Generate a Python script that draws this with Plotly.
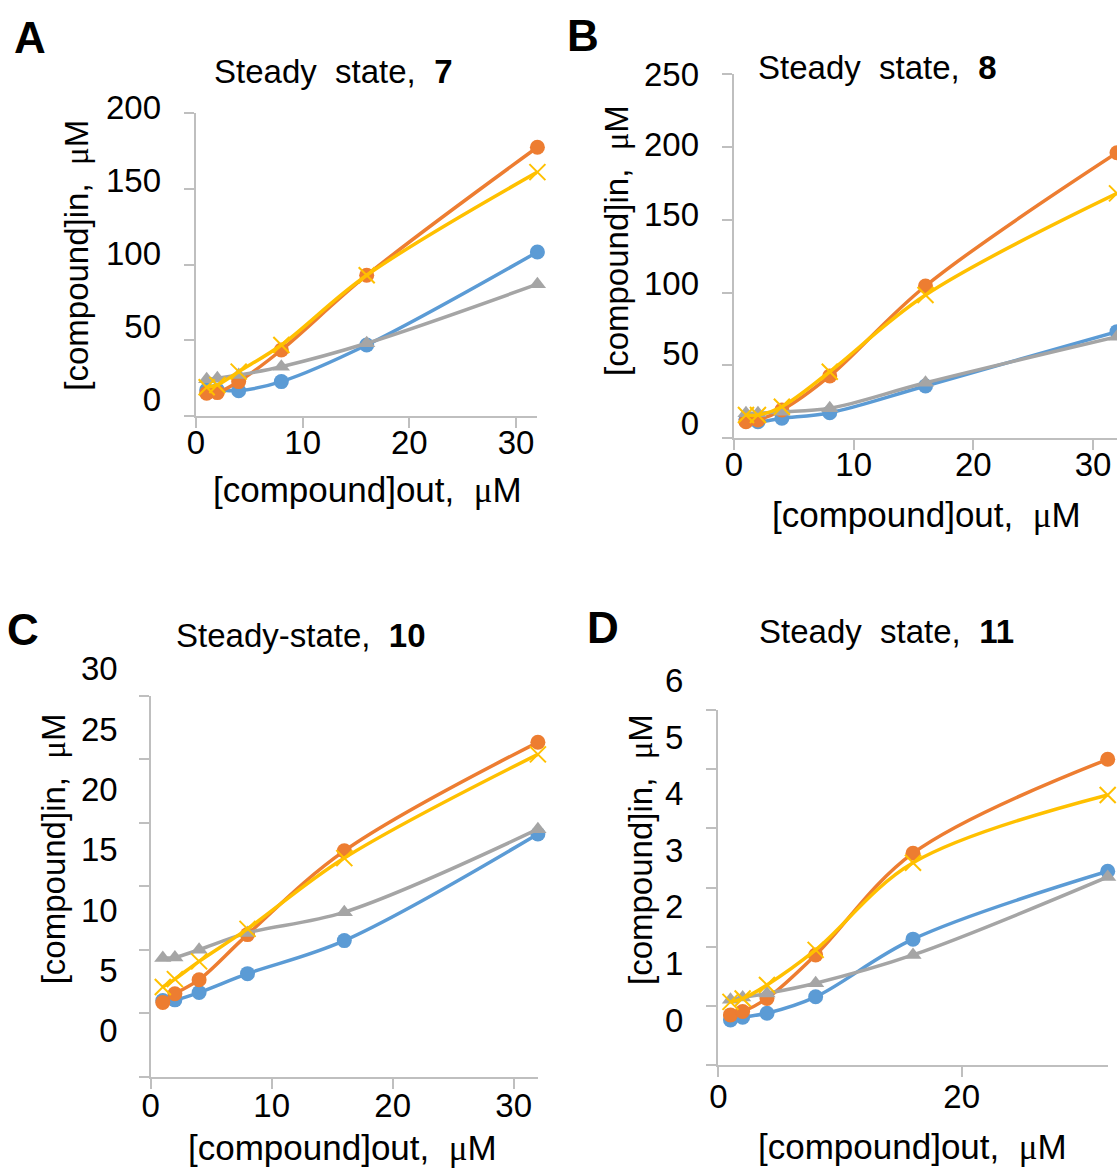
import plotly.graph_objects as go

# ---------------- data ----------------
X_OUT = [1, 2, 4, 8, 16, 32]          # [compound]out, uM

A_BLUE   = [6.8, 6.8, 6.3, 12.5, 37.5, 101.1]
A_ORANGE = [4.6, 5.0, 12.5, 34.1, 85.2, 172.7]
A_GRAY   = [14.1, 14.8, 17.0, 22.7, 38.7, 79.1]
A_YELLOW = [8.7, 10.2, 19.3, 37.5, 85.2, 155.7]

B_BLUE   = [2.7, 0.9, 3.4, 7.4, 26.6, 65.6]
B_ORANGE = [0.9, 2.2, 9.3, 33.8, 98.4, 194.1]
B_GRAY   = [7.0, 7.0, 8.1, 10.6, 28.9, 62.0]
B_YELLOW = [5.7, 5.7, 11.7, 36.8, 91.9, 164.9]

C_BLUE   = [2.5, 2.55, 3.16, 4.72, 7.46, 16.3]
C_ORANGE = [2.33, 3.05, 4.22, 7.96, 14.9, 23.9]
C_GRAY   = [6.02, 6.07, 6.71, 8.1, 9.82, 16.7]
C_YELLOW = [3.61, 4.27, 5.74, 8.43, 14.3, 22.9]

D_BLUE   = [0.0, 0.05, 0.12, 0.41, 1.43, 2.63]
D_ORANGE = [0.09, 0.15, 0.38, 1.15, 2.95, 4.61]
D_GRAY   = [0.36, 0.40, 0.47, 0.65, 1.15, 2.53]
D_YELLOW = [0.32, 0.38, 0.62, 1.24, 2.78, 3.98]

PANEL_LETTERS = ["A", "B", "C", "D"]
PANEL_TITLES = ["Steady\u00a0 state,\u00a0 <b>7</b>", "Steady\u00a0 state,\u00a0 <b>8</b>",
                "Steady-state,\u00a0 <b>10</b>", "Steady\u00a0 state,\u00a0 <b>11</b>"]
Y_TICKS = [[0, 50, 100, 150, 200], [0, 50, 100, 150, 200, 250],
           [0, 5, 10, 15, 20, 25, 30], [0, 1, 2, 3, 4, 5, 6]]
X_DTICK = [10, 10, 10, 20]
MU = "<span style='font-family:Liberation Serif, Times New Roman, serif'>μ</span>"
X_TITLE = "[compound]out,\u00a0 " + MU + "M"
Y_TITLE = "[compound]in,\u00a0 " + MU + "M"

SERIES = [
    [A_BLUE, A_ORANGE, A_GRAY, A_YELLOW],
    [B_BLUE, B_ORANGE, B_GRAY, B_YELLOW],
    [C_BLUE, C_ORANGE, C_GRAY, C_YELLOW],
    [D_BLUE, D_ORANGE, D_GRAY, D_YELLOW],
]

# ---------------- styles / geometry (pixels) ----------------
W, H = 1117, 1169
BLUE, ORANGE, GRAY, YELLOW = "#5B9BD5", "#ED7D31", "#A5A5A5", "#FFC000"
STYLES = [
    dict(color=BLUE, symbol="circle"),
    dict(color=ORANGE, symbol="circle"),
    dict(color=GRAY, symbol="triangle-up"),
    dict(color=YELLOW, symbol="x-thin"),
]
AX = "#BFBFBF"
FONT = "Liberation Sans, Arial, sans-serif"
TICK_SIZE = 33

# plot frame: x0, x1 (x range 0..32), y-bottom, y-top of the tick-mark axis
FRAME = [
    dict(x0=196, x1=537.4, yb=416, yt=113.3),
    dict(x0=734, x1=1117, yb=438.3, yt=74),
    dict(x0=150.7, x1=537.9, yb=1076.7, yt=696),
    dict(x0=718.3, x1=1107.7, yb=1065, yt=710),
]
# label (data) axis: pixel of label 0 and of the top label, right edge of labels
LABELAX = [
    dict(l0=399.9, lt=107.3, right=161.7),
    dict(l0=423.0, lt=74.9, right=700),
    dict(l0=1030.6, lt=668.7, right=118.3),
    dict(l0=1020.0, lt=680.7, right=684.3),
]
XLAB_STANDOFF = [-14, -14, -11, -9]
LETTER_POS = [(30, 37.5), (583, 36), (23, 629), (602.6, 627.3)]
TITLE_POS = [(333, 71.7), (876.7, 68), (300.9, 635.4), (886, 631.8)]
XTITLE_POS = [(367, 490), (926.8, 515), (342.9, 1148), (912.7, 1147)]
YTITLE_POS = [(76.7, 255), (617, 241), (53.3, 849), (640, 850)]


def fx(px):
    return px / W


def fy(py):
    return 1 - py / H


fig = go.Figure()
layout = dict(
    width=W, height=H,
    margin=dict(l=0, r=0, t=0, b=0, pad=0),
    paper_bgcolor="white", plot_bgcolor="rgba(0,0,0,0)",
    showlegend=False,
    font=dict(family=FONT, color="black", size=32),
    template="none",
)

annotations = []
for i in range(4):
    n = i + 1
    m = i + 5
    fr = FRAME[i]
    la = LABELAX[i]
    ticks = Y_TICKS[i]
    ytop = ticks[-1]
    # x axis (data), drawn at the bottom of the tick-mark axis
    layout[f"xaxis{n}"] = dict(
        domain=[fx(fr["x0"]), fx(fr["x1"])], range=[0, 32], anchor=f"y{m}",
        showline=True, linecolor=AX, linewidth=2,
        ticks="outside", ticklen=10, tickwidth=2, tickcolor=AX,
        tick0=0, dtick=X_DTICK[i], showgrid=False, zeroline=False,
        tickfont=dict(size=TICK_SIZE, family=FONT, color="black"),
        ticklabelstandoff=XLAB_STANDOFF[i], automargin=False, fixedrange=True,
    )
    # y axis carrying the data and the tick labels (no line, no ticks)
    layout[f"yaxis{n}"] = dict(
        domain=[fy(la["l0"]), fy(la["lt"])], range=[0, ytop], anchor=f"x{n}",
        showline=False, ticks="", tickvals=ticks,
        showgrid=False, zeroline=False,
        tickfont=dict(size=TICK_SIZE, family=FONT, color="black"),
        ticklabelstandoff=max(0, round(fr["x0"] - la["right"])),
        automargin=False, fixedrange=True,
    )
    # y axis with the gray line and tick marks (no labels)
    layout[f"yaxis{m}"] = dict(
        domain=[fy(fr["yb"]), fy(fr["yt"])], range=[0, ytop], anchor=f"x{n}",
        showline=True, linecolor=AX, linewidth=2,
        ticks="outside", ticklen=10, tickwidth=2, tickcolor=AX,
        tickvals=ticks, showticklabels=False, showgrid=False, zeroline=False,
        automargin=False, fixedrange=True,
    )
    # empty trace so that the frame subplot exists
    fig.add_trace(go.Scatter(x=[None], y=[None], xaxis=f"x{n}", yaxis=f"y{m}",
                             mode="markers", hoverinfo="skip"))
    for vals, st in zip(SERIES[i], STYLES):
        is_x = st["symbol"] == "x-thin"
        fig.add_trace(go.Scatter(
            x=X_OUT, y=vals, xaxis=f"x{n}", yaxis=f"y{n}",
            mode="lines+markers",
            line=dict(color=st["color"], width=3.5, shape="spline", smoothing=1),
            marker=dict(symbol=st["symbol"], size=16 if is_x else 15, color=st["color"],
                        line=dict(color=st["color"], width=2 if is_x else 0)),
            cliponaxis=False, hoverinfo="skip",
        ))

    lx, ly = LETTER_POS[i]
    annotations.append(dict(text=f"<b>{PANEL_LETTERS[i]}</b>", x=fx(lx), y=fy(ly),
                            xref="paper", yref="paper", showarrow=False,
                            xanchor="center", yanchor="middle",
                            font=dict(size=44, family=FONT, color="black")))
    tx, ty = TITLE_POS[i]
    annotations.append(dict(text=PANEL_TITLES[i], x=fx(tx), y=fy(ty),
                            xref="paper", yref="paper", showarrow=False,
                            xanchor="center", yanchor="middle",
                            font=dict(size=33, family=FONT, color="black")))
    xx, xy = XTITLE_POS[i]
    annotations.append(dict(text=X_TITLE, x=fx(xx), y=fy(xy),
                            xref="paper", yref="paper", showarrow=False,
                            xanchor="center", yanchor="middle",
                            font=dict(size=35, family=FONT, color="black")))
    yx, yy = YTITLE_POS[i]
    annotations.append(dict(text=Y_TITLE, x=fx(yx), y=fy(yy), textangle=-90,
                            xref="paper", yref="paper", showarrow=False,
                            xanchor="center", yanchor="middle",
                            font=dict(size=33, family=FONT, color="black")))

layout["annotations"] = annotations
fig.update_layout(**layout)
fig.write_html("out.html", config={"displayModeBar": False},
               post_script="document.body.style.margin='0';document.body.style.overflow='hidden';")
